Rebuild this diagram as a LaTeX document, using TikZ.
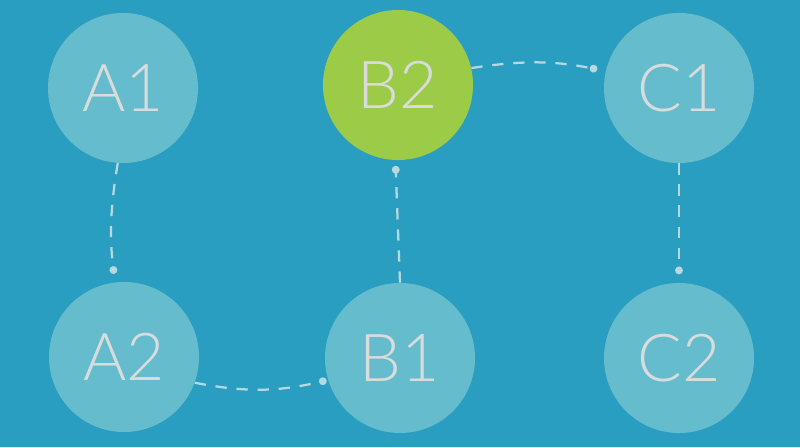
\documentclass[tikz,border=0pt]{standalone}
\usepackage{fontspec}
\setmainfont{Lato Light}
\usepackage{xcolor}
\definecolor{bluebg}{RGB}{42,158,193}
\definecolor{seat}{RGB}{101,188,205}
\definecolor{limegreen}{RGB}{156,203,72}
\definecolor{labelgrey}{RGB}{217,220,220}
\definecolor{dashgrey}{RGB}{184,216,224}
\usetikzlibrary{arrows.meta}
\tikzset{>=stealth}
\tikzset{%
    state/.style={circle, fill=seat, minimum size=3.75cm, inner sep=0pt,
        text=labelgrey, font=\fontsize{47}{47}\selectfont},
    current/.style={state, fill=limegreen},
    hop/.style={draw=dashgrey, line width=1.6pt, dash pattern=on 8pt off 7pt,
        -{Circle[length=5.5pt]}, shorten >=6pt}
}

\begin{document}
\begin{tikzpicture}[x=0.025cm,y=-0.025cm]
\fill[bluebg] (0,0) rectangle (800,447);
\node[state]   (a1) at (123,88)  {A1};
\node[current] (b2) at (398,85)  {B2};
\node[state]   (c1) at (679,88)  {C1};
\node[state]   (a2) at (124,357) {A2};
\node[state]   (b1) at (400,358) {B1};
\node[state]   (c2) at (679,358) {C2};
% the walk
\draw[hop] (a1.-94) to[bend right=8] (a2.97);
\draw[hop, shorten >=1pt] (a2.-20) to[bend right=12] (b1.197);
\draw[hop, shorten >=4pt] (b1.90) to (b2.-92);
\draw[hop] (b2.13) to[bend left=10] (c1.167);
\draw[hop] (c1.-90) to (c2.90);
\end{tikzpicture}
\end{document}
